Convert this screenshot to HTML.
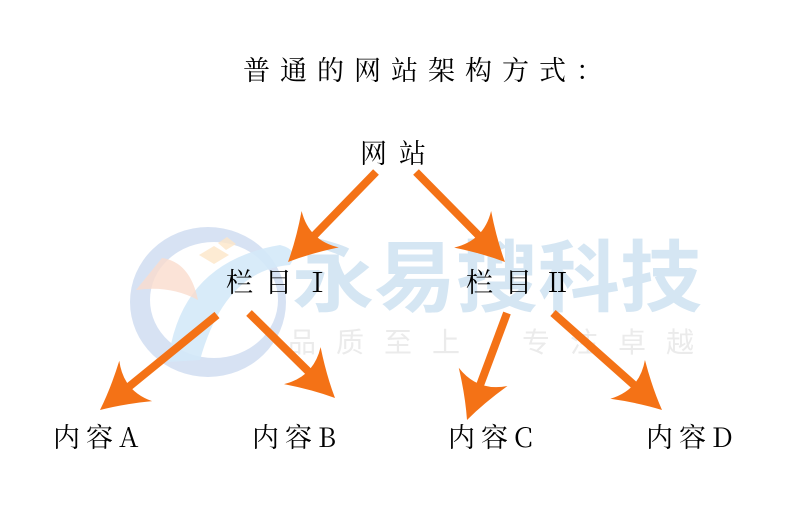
<!DOCTYPE html>
<html><head><meta charset="utf-8"><style>
html,body{margin:0;padding:0;background:#fff;width:800px;height:516px;overflow:hidden}
svg{display:block}
.t{font-family:"Noto Serif CJK SC","Liberation Serif",serif;fill:#000}
</style></head><body>
<svg width="800" height="516" viewBox="0 0 800 516">
<defs>
<path id="h" d="M0,0 Q-22,-10 -46,-26 Q-30,0 -46,26 Q-22,10 0,0 Z" fill="#f47216"/>
</defs>
<!-- watermark logo -->
<path fill-rule="evenodd" d="M130,302 A78,75 0 1 0 286,302 A78,75 0 1 0 130,302 Z M150,300 A64,58 0 1 0 278,300 A64,58 0 1 0 150,300 Z" fill="#d3dff2" opacity="0.9"/>
<path d="M168,362 Q180,262 280,245 Q300,250 290,265 Q225,270 200,360 Z" fill="#d4e9f8" opacity="0.9"/>
<path d="M136,290 L162,258 Q190,262 198,300 Q170,285 136,290 Z" fill="#fadccd" opacity="0.8"/>
<path d="M199,255 L214,246 L229,255 L214,264 Z M218,243 L227,237 L236,244 L226,250 Z" fill="#fce6c8" opacity="0.8"/>
<text x="292" y="305" font-family="'Noto Sans CJK SC',sans-serif" font-weight="700" font-size="78" fill="#d5e6f3" textLength="410" lengthAdjust="spacingAndGlyphs">永易搜科技</text>
<text x="288" y="352" font-family="'Noto Sans CJK SC',sans-serif" font-size="28" fill="#ebebeb" letter-spacing="20">品质至上</text>
<text x="522" y="352" font-family="'Noto Sans CJK SC',sans-serif" font-size="28" fill="#ebebeb" letter-spacing="20">专注卓越</text>
<!-- arrows -->
<g stroke="#f47216" stroke-width="8">
<line x1="376" y1="172" x2="306" y2="244"/>
<line x1="416" y1="172" x2="487" y2="244"/>
<line x1="217" y1="315" x2="120" y2="394"/>
<line x1="249" y1="313" x2="317" y2="380"/>
<line x1="507" y1="313" x2="476" y2="396"/>
<line x1="553" y1="313" x2="643" y2="393"/>
</g>
<use href="#h" transform="translate(288,262) rotate(134.4)"/>
<use href="#h" transform="translate(505,262) rotate(45.3)"/>
<use href="#h" transform="translate(100,410) rotate(140.9)"/>
<use href="#h" transform="translate(335,398) rotate(44.7)"/>
<use href="#h" transform="translate(467,420) rotate(110.5)"/>
<use href="#h" transform="translate(662,410) rotate(41.7)"/>
<!-- text -->
<text class="t" x="243" y="80" font-size="27" letter-spacing="10">普通的网站架构方式：</text>
<text class="t" x="360" y="163" font-size="27" letter-spacing="12">网站</text>
<text class="t" x="226" y="292" font-size="27" letter-spacing="12">栏目Ⅰ</text>
<text class="t" x="466" y="292" font-size="27" letter-spacing="12">栏目Ⅱ</text>
<text class="t" x="53" y="447" font-size="27" letter-spacing="6">内容A</text>
<text class="t" x="252" y="447" font-size="27" letter-spacing="6">内容B</text>
<text class="t" x="448" y="447" font-size="27" letter-spacing="6">内容C</text>
<text class="t" x="646" y="447" font-size="27" letter-spacing="6">内容D</text>
</svg>
</body></html>
